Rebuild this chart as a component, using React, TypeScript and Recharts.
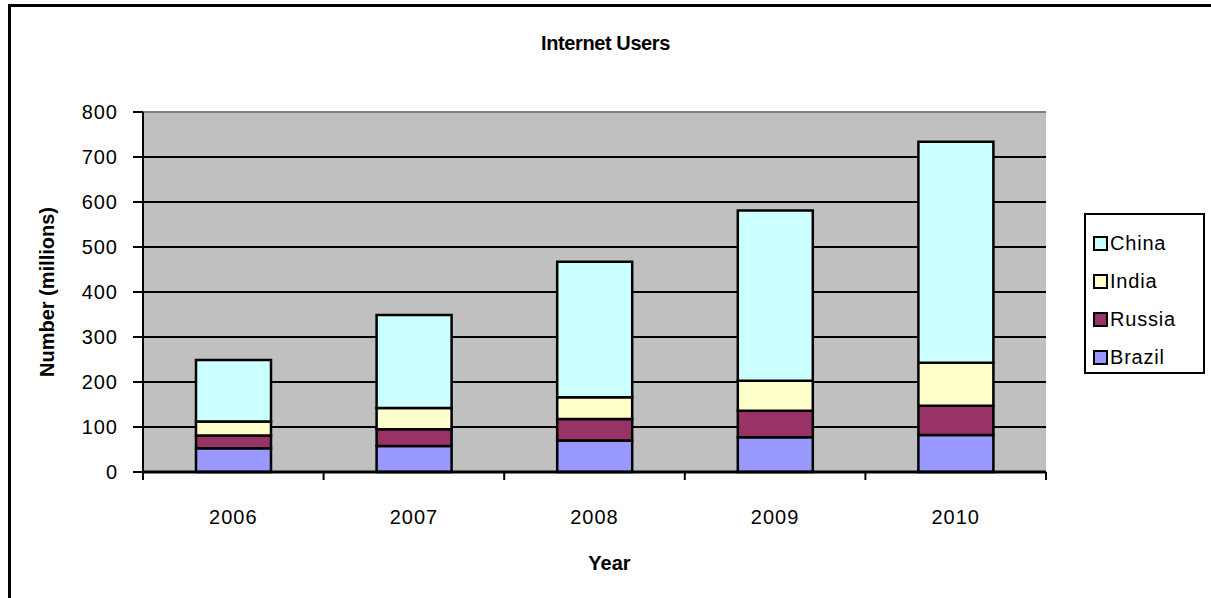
import React from "react";
import {
  BarChart,
  Bar,
  XAxis,
  YAxis,
  CartesianGrid,
  ReferenceLine,
} from "recharts";

const years = ["2006", "2007", "2008", "2009", "2010"];
const brazil = [53, 58, 70, 77, 82];
const russia = [28, 37, 48, 59, 65];
const india = [31, 47, 48, 67, 96];
const china = [137, 207, 301, 378, 491];
const yTicks = [0, 100, 200, 300, 400, 500, 600, 700, 800];

// stacking order bottom -> top
const series = [
  { key: "Brazil", values: brazil, color: "#9999FF" },
  { key: "Russia", values: russia, color: "#993366" },
  { key: "India", values: india, color: "#FFFFCC" },
  { key: "China", values: china, color: "#CCFFFF" },
];

const data = years.map((year, i) => {
  const row: Record<string, string | number> = { year };
  series.forEach((s) => {
    row[s.key] = s.values[i];
  });
  return row;
});

const FONT = "Arial, 'Liberation Sans', sans-serif";

// year label plus the tick marks that sit on the category boundaries
function YearTick(props: any) {
  const { x, y, payload, index } = props;
  const half = payload && payload.offset ? payload.offset : 0;
  const isLast = index === years.length - 1;
  return (
    <g>
      <line x1={x - half} x2={x - half} y1={y} y2={y + 8} stroke="#000" strokeWidth={2} />
      {isLast && (
        <line x1={x + half} x2={x + half} y1={y} y2={y + 8} stroke="#000" strokeWidth={2} />
      )}
      <text
        x={x}
        y={y + 45}
        textAnchor="middle"
        dominantBaseline="central"
        fill="#000"
        fontSize={20}
        fontFamily={FONT}
        letterSpacing={1}
      >
        {payload.value}
      </text>
    </g>
  );
}

export default function App() {
  return (
    <div
      style={{
        position: "absolute",
        left: 0,
        top: 0,
        width: 1211,
        height: 598,
        overflow: "hidden",
        background: "#fff",
        fontFamily: FONT,
      }}
    >
      {/* outer frame */}
      <div
        style={{
          position: "absolute",
          left: 8,
          top: 4,
          width: 1300,
          height: 700,
          borderLeft: "3px solid #000",
          borderTop: "3px solid #000",
        }}
      />

      <div
        style={{
          position: "absolute",
          left: 0,
          top: 32,
          width: 1211,
          textAlign: "center",
          fontWeight: "bold",
          fontSize: 20,
          letterSpacing: -0.4,
        }}
      >
        Internet Users
      </div>

      <div style={{ position: "absolute", left: 0, top: 0 }}>
        <BarChart
          width={1211}
          height={598}
          data={data}
          margin={{ top: 112, right: 165, bottom: 16, left: 33 }}
          barSize={75}
        >
          <CartesianGrid
            vertical={false}
            fill="#C0C0C0"
            stroke="#000"
            strokeWidth={2}
            fillOpacity={1}
          />
          <XAxis
            dataKey="year"
            height={110}
            axisLine={{ stroke: "#000", strokeWidth: 3 }}
            tickLine={false}
            tickSize={0}
            tickMargin={0}
            interval={0}
            tick={<YearTick />}
            label={{
              value: "Year",
              position: "insideBottom",
              offset: 12,
              dx: 15,
              style: { fontWeight: "bold", fontSize: 20, fill: "#000", fontFamily: FONT },
            }}
          />
          <YAxis
            width={110}
            domain={[0, 800]}
            ticks={yTicks}
            interval={0}
            tickSize={10}
            tickMargin={15}
            axisLine={{ stroke: "#000", strokeWidth: 2 }}
            tickLine={{ stroke: "#000", strokeWidth: 2 }}
            tick={{ fill: "#000", fontSize: 20, fontFamily: FONT, letterSpacing: 1 }}
            label={{
              value: "Number (millions)",
              angle: -90,
              position: "insideLeft",
              offset: 14,
              style: {
                textAnchor: "middle",
                fontWeight: "bold",
                fontSize: 20,
                fill: "#000",
                fontFamily: FONT,
              },
            }}
          />
          <ReferenceLine y={800} stroke="#808080" strokeWidth={2} />
          {series.map((s) => (
            <Bar
              key={s.key}
              dataKey={s.key}
              stackId="a"
              fill={s.color}
              stroke="#000"
              strokeWidth={2.5}
              isAnimationActive={false}
            />
          ))}
        </BarChart>
      </div>

      {/* legend, China on top */}
      <div
        style={{
          position: "absolute",
          left: 1084,
          top: 213,
          width: 121,
          height: 161,
          border: "2px solid #000",
          boxSizing: "border-box",
          background: "#fff",
        }}
      >
        {[...series].reverse().map((s, i) => (
          <div
            key={s.key}
            style={{
              position: "absolute",
              left: 7,
              top: 17 + i * 38,
              display: "flex",
              alignItems: "center",
              fontSize: 20,
              letterSpacing: 0.8,
              lineHeight: "22px",
            }}
          >
            <span
              style={{
                display: "inline-block",
                width: 11,
                height: 11,
                border: "2px solid #000",
                background: s.color,
                marginRight: 2,
              }}
            />
            {s.key}
          </div>
        ))}
      </div>
    </div>
  );
}
